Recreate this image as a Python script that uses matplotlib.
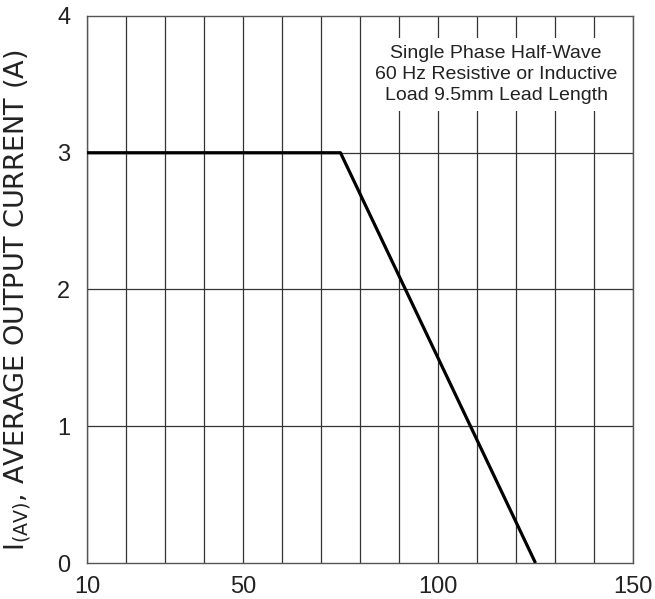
import matplotlib
matplotlib.use("Agg")
import matplotlib.pyplot as plt

plt.rcParams['font.family'] = ['Liberation Sans', 'DejaVu Sans']
plt.rcParams['mathtext.fontset'] = 'custom'
plt.rcParams['mathtext.rm'] = 'DejaVu Sans'
plt.rcParams['mathtext.it'] = 'DejaVu Sans'

# Data
temp = [10, 75, 125]
current = [3, 3, 0]
xticks = [10, 50, 100, 150]
yticks = [0, 1, 2, 3, 4]
xgrid = list(range(10, 151, 10))
ygrid = [1, 2, 3]
note = "Single Phase Half-Wave\n60 Hz Resistive or Inductive\nLoad 9.5mm Lead Length"
ylabel = r"I$_{\mathrm{(AV)}}$, AVERAGE OUTPUT CURRENT (A)"

fig = plt.figure(figsize=(6.55, 5.99), dpi=100)
ax = fig.add_axes([0.1328, 0.0601, 0.9664 - 0.1328, 0.9733 - 0.0601])

ax.set_xlim(10, 150)
ax.set_ylim(0, 4)

for x in xgrid:
    ax.axvline(x, color='#333333', lw=0.9, zorder=1)
for y in ygrid:
    ax.axhline(y, color='#333333', lw=0.9, zorder=1)

ax.plot(temp, current, color='black', lw=2.3, solid_capstyle='butt', zorder=3)

ax.text(114.9, 3.57, note, ha='center', va='center', fontsize=14, linespacing=1.3,
        color='#222222',
        bbox=dict(facecolor='white', edgecolor='none', pad=5), zorder=2)

ax.set_xticks(xticks)
ax.set_yticks(yticks)
ax.tick_params(axis='both', length=0, labelsize=17, colors='#222222')
ax.tick_params(axis='y', pad=12)
ax.tick_params(axis='x', pad=9)
for s in ax.spines.values():
    s.set_color('#555555')
    s.set_linewidth(1.0)

fig.text(18 / 655, 0.499, ylabel, rotation=90, ha='center', va='center',
         fontsize=19.5, color='#222222', family='DejaVu Sans')

fig.savefig("out.png", dpi=100)
